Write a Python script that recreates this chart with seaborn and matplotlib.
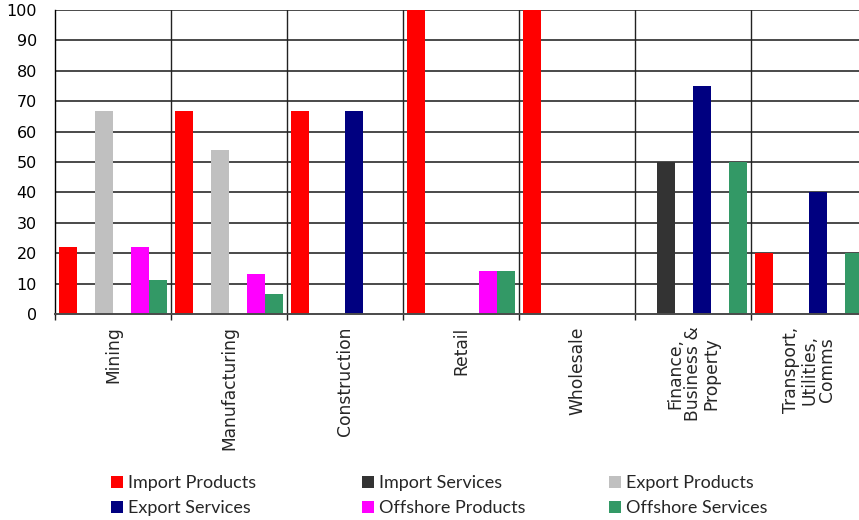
import numpy as np
import pandas as pd
import matplotlib
matplotlib.use("Agg")
import matplotlib.pyplot as plt
import seaborn as sns
from matplotlib.ticker import FixedLocator

sectors = ["Mining", "Manufacturing", "Construction", "Retail", "Wholesale",
           "Finance,\nBusiness &\nProperty", "Transport,\nUtilities,\nComms"]
series = ["Import Products", "Import Services", "Export Products",
          "Export Services", "Offshore Products", "Offshore Services"]

import_products = [22.2, 66.7, 66.7, 100, 100, 0, 20]
import_services = [0, 0, 0, 0, 0, 50, 0]
export_products = [66.7, 53.8, 0, 0, 0, 0, 0]
export_services = [0, 0, 66.7, 0, 0, 75, 40]
offshore_products = [22.2, 13.3, 0, 14.3, 0, 0, 0]
offshore_services = [11.1, 6.7, 0, 14.3, 0, 50, 20]

colors = ["#FF0000", "#333333", "#C0C0C0", "#000080", "#FF00FF", "#339966"]

values = [import_products, import_services, export_products,
          export_services, offshore_products, offshore_services]
df = pd.DataFrame({
    "sector": np.tile(sectors, len(series)),
    "series": np.repeat(series, len(sectors)),
    "value": np.concatenate(values),
})

sns.set_theme(style="white")
plt.rcParams["font.family"] = ["DejaVu Sans"]

fig = plt.figure(figsize=(8.59, 5.20), dpi=100)
ax = fig.add_axes([55 / 859, 1 - 314 / 520, 812 / 859, 304 / 520])

sns.barplot(data=df, x="sector", y="value", hue="series", order=sectors,
            hue_order=series, palette=colors, width=0.93, gap=0,
            saturation=1, ax=ax, legend=True, linewidth=0)

ax.set_xlim(-0.5, len(sectors) - 0.5)
ax.set_ylim(0, 100)
ax.set_yticks(np.arange(0, 101, 10))
ax.tick_params(axis="y", length=0, pad=13, labelsize=11.5, colors="black")
ax.set_xlabel("")
ax.set_ylabel("")

# horizontal gridlines and category separators
for y in np.arange(10, 101, 10):
    ax.axhline(y, color="#4a4a4a", lw=1.4, zorder=0)
for b in np.arange(0.5, len(sectors) - 0.5, 1):
    ax.axvline(b, color="#222222", lw=1.0, zorder=0)

for s in ["top", "right"]:
    ax.spines[s].set_visible(False)
ax.spines["left"].set_color("black")
ax.spines["left"].set_linewidth(1.0)
ax.spines["bottom"].set_color("#4a4a4a")
ax.spines["bottom"].set_linewidth(1.4)

# separators extend slightly below the axis as tick marks
ax.xaxis.set_minor_locator(FixedLocator(np.arange(-0.5, len(sectors), 1)))
ax.tick_params(axis="x", which="minor", length=4, width=1.0, color="#222222",
               direction="out", bottom=True)
ax.tick_params(axis="x", which="major", length=0, pad=9)
ax.set_xticks(range(len(sectors)))
ax.set_xticklabels(sectors, rotation=90, ha="center", va="top",
                   fontsize=12.3, multialignment="center", linespacing=1.0)

handles, labels = ax.get_legend_handles_labels()
ax.get_legend().remove()

legend_font = {"family": ["Lato", "DejaVu Sans"], "size": 13}
col_x = [111 / 859, 362 / 859, 609 / 859]
for i, x in enumerate(col_x):
    hs = [handles[i], handles[i + 3]]
    ls = [labels[i], labels[i + 3]]
    fig.legend(hs, ls, loc="upper left", bbox_to_anchor=(x, 1 - 475 / 520),
               frameon=False, prop=legend_font, handlelength=0.65,
               handleheight=0.65, handletextpad=0.3, labelspacing=0.5,
               borderaxespad=0, borderpad=0)

fig.savefig("out.png", dpi=100)
